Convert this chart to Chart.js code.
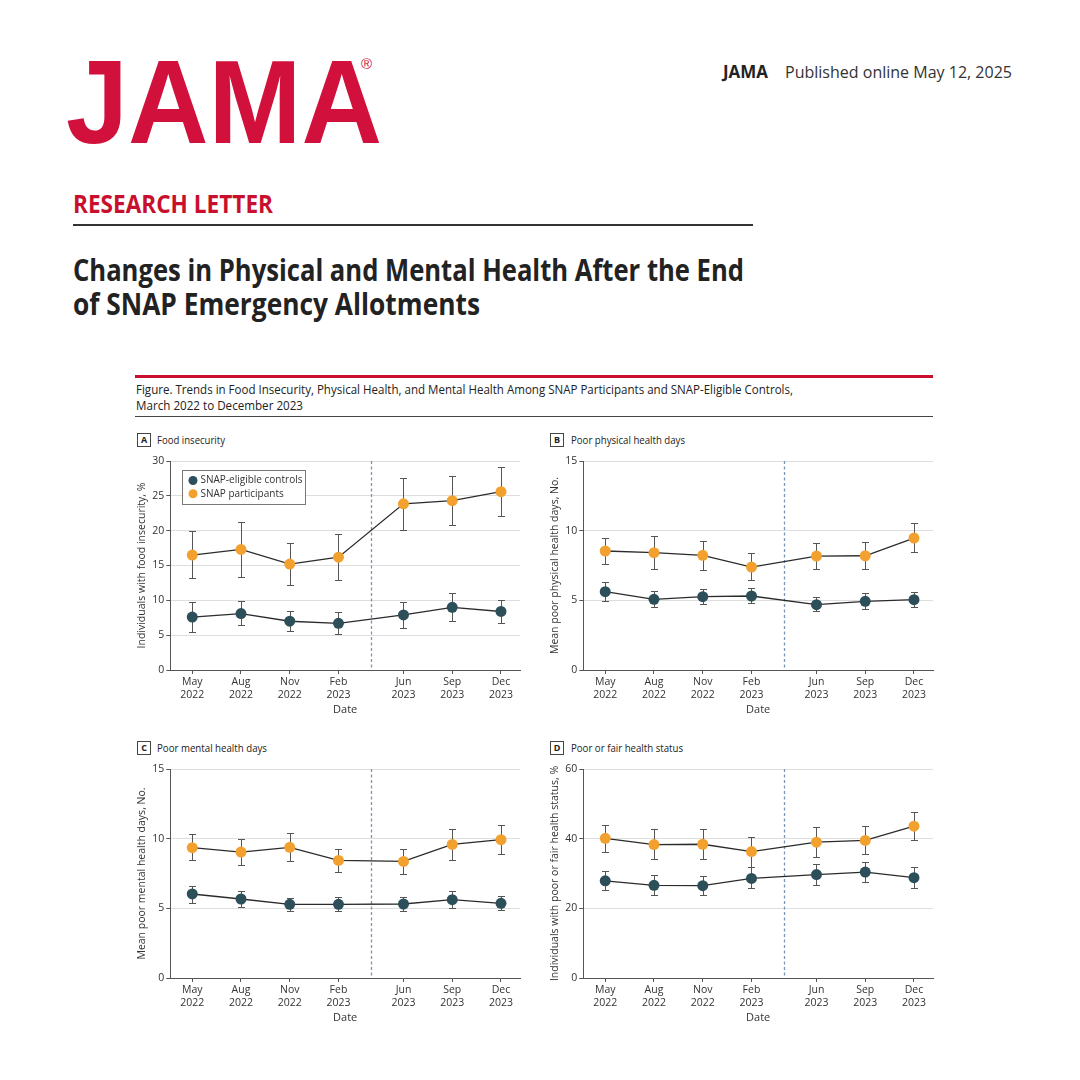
<!DOCTYPE html>
<html lang="en">
<head>
<meta charset="UTF-8" />
<title>Changes in Physical and Mental Health After the End of SNAP Emergency Allotments</title>
<script src="https://cdn.jsdelivr.net/npm/chart.js@4.4.1/dist/chart.umd.min.js"></script>
<style>
  body { margin: 0; width: 1080px; height: 1080px; background: #fff; position: relative; overflow: hidden;
         font-family: 'Open Sans', sans-serif; color: #222; }
  .t { position: absolute; white-space: nowrap; line-height: 1; transform-origin: left top; }
  .rule { position: absolute; }
  .tag { position: absolute; width: 12px; height: 12px; border: 1px solid #444; font: bold 9px 'Open Sans', sans-serif;
         text-align: center; line-height: 12px; color: #222; }
  canvas { position: absolute; }
</style>
</head>
<body>
  <div class="t" data-w="316" style="left:66px; top:43px; font:bold 118px/118px 'Liberation Sans', Arial, sans-serif; color:#d2103c;">JAMA</div>
  <div class="t" style="left:361px; top:55px; font:15px 'Liberation Sans', Arial, sans-serif; color:#d2103c;">®</div>
  <div class="t" data-w="45" style="left:723px; top:63px; font-size:17px; font-weight:700; color:#222;">JAMA</div>
  <div class="t" data-w="227" style="left:785px; top:63px; font-size:17px; color:#333;">Published online May 12, 2025</div>

  <div class="t" data-w="200" style="left:73px; top:191px; font-size:25px; font-weight:700; color:#c8102e;">RESEARCH LETTER</div>
  <div class="rule" style="left:73px; top:224px; width:680px; height:2px; background:#333;"></div>
  <div class="t" data-w="671" style="left:73px; top:254px; font-size:31px; font-weight:700; color:#222;">Changes in Physical and Mental Health After the End</div>
  <div class="t" data-w="407" style="left:73px; top:288px; font-size:31px; font-weight:700; color:#222;">of SNAP Emergency Allotments</div>

  <div class="rule" style="left:135px; top:375px; width:798px; height:3px; background:#c8102e;"></div>
  <div class="t" data-w="657" style="left:136px; top:383px; font-size:13px; color:#222;">Figure. Trends in Food Insecurity, Physical Health, and Mental Health Among SNAP Participants and SNAP-Eligible Controls,</div>
  <div class="t" data-w="167" style="left:136px; top:399px; font-size:13px; color:#222;">March 2022 to December 2023</div>
  <div class="rule" style="left:135px; top:416px; width:798px; height:1px; background:#444;"></div>

  <div class="tag" style="left:137px; top:433px;">A</div>
  <div class="t" data-w="68" style="left:157px; top:434px; font-size:11px; color:#222;">Food insecurity</div>
  <div class="tag" style="left:550px; top:433px;">B</div>
  <div class="t" data-w="114" style="left:571px; top:434px; font-size:11px; color:#222;">Poor physical health days</div>
  <div class="tag" style="left:137px; top:741px;">C</div>
  <div class="t" data-w="110" style="left:157px; top:742px; font-size:11px; color:#222;">Poor mental health days</div>
  <div class="tag" style="left:550px; top:741px;">D</div>
  <div class="t" data-w="112" style="left:571px; top:742px; font-size:11px; color:#222;">Poor or fair health status</div>

  <canvas id="chartA" width="400" height="270" style="left:130px; top:452px;"></canvas>
  <canvas id="chartB" width="400" height="270" style="left:543px; top:452px;"></canvas>
  <canvas id="chartC" width="400" height="270" style="left:130px; top:760px;"></canvas>
  <canvas id="chartD" width="400" height="270" style="left:543px; top:760px;"></canvas>

<script>
  // x positions: months since May 2022
  const monthPos = [0, 3, 6, 9, 13, 16, 19]
  const tickLabels = [['May', '2022'], ['Aug', '2022'], ['Nov', '2022'], ['Feb', '2023'], ['Jun', '2023'], ['Sep', '2023'], ['Dec', '2023']]
  const allotmentsEnd = 11 // dashed line (end of emergency allotments)

  // A: food insecurity, %
  const foodCtrl   = [7.6, 8.1, 7.0, 6.7, 7.9, 9.0, 8.4]
  const foodCtrlLo = [5.5, 6.4, 5.6, 5.1, 6.1, 7.0, 6.75]
  const foodCtrlHi = [9.7, 9.85, 8.4, 8.3, 9.7, 11.0, 10.05]
  const foodSnap   = [16.5, 17.3, 15.2, 16.2, 23.85, 24.3, 25.6]
  const foodSnapLo = [13.2, 13.3, 12.15, 12.9, 20.1, 20.8, 22.1]
  const foodSnapHi = [19.9, 21.2, 18.2, 19.5, 27.6, 27.8, 29.1]

  // B: poor physical health days
  const physCtrl   = [5.62, 5.07, 5.26, 5.31, 4.69, 4.93, 5.05]
  const physCtrlLo = [4.93, 4.52, 4.71, 4.78, 4.21, 4.38, 4.52]
  const physCtrlHi = [6.29, 5.67, 5.84, 5.86, 5.22, 5.53, 5.57]
  const physSnap   = [8.54, 8.42, 8.23, 7.39, 8.18, 8.2, 9.47]
  const physSnapLo = [7.58, 7.22, 7.18, 6.44, 7.25, 7.25, 8.44]
  const physSnapHi = [9.5, 9.59, 9.26, 8.4, 9.09, 9.21, 10.55]

  // C: poor mental health days
  const mentCtrl   = [6.03, 5.67, 5.29, 5.29, 5.31, 5.62, 5.36]
  const mentCtrlLo = [5.36, 5.1, 4.81, 4.78, 4.81, 5.0, 4.86]
  const mentCtrlHi = [6.63, 6.22, 5.74, 5.79, 5.84, 6.27, 5.86]
  const mentSnap   = [9.35, 9.04, 9.38, 8.44, 8.37, 9.59, 9.93]
  const mentSnapLo = [8.44, 8.11, 8.4, 7.58, 7.44, 8.44, 8.9]
  const mentSnapHi = [10.31, 9.95, 10.38, 9.28, 9.28, 10.72, 10.96]

  // D: poor or fair health status, %
  const fairCtrl   = [27.9, 26.6, 26.5, 28.6, 29.7, 30.4, 28.8]
  const fairCtrlLo = [25.2, 23.8, 23.8, 25.7, 26.7, 27.5, 25.8]
  const fairCtrlHi = [30.8, 29.5, 29.3, 31.9, 32.7, 33.4, 31.8]
  const fairSnap   = [40.1, 38.3, 38.4, 36.3, 39.0, 39.5, 43.6]
  const fairSnapLo = [36.2, 34.1, 34.1, 32.0, 34.7, 35.6, 39.5]
  const fairSnapHi = [43.9, 42.7, 42.8, 40.5, 43.3, 43.7, 47.7]

  const ctrlColor = '#2d4f5a'
  const snapColor = '#f2a12e'

  Chart.defaults.font.family = "'Open Sans', sans-serif"
  Chart.defaults.font.size = 10
  Chart.defaults.color = '#333'

  const errorBars = {
    id: 'errorBars',
    beforeDatasetsDraw(chart) {
      const { ctx, chartArea, scales: { x, y } } = chart
      ctx.save()
      const px = Math.round(x.getPixelForValue(allotmentsEnd)) + 0.5
      ctx.strokeStyle = '#7b95b6'
      ctx.lineWidth = 1.3
      ctx.setLineDash([3, 2.5])
      ctx.beginPath()
      ctx.moveTo(px, chartArea.top)
      ctx.lineTo(px, chartArea.bottom)
      ctx.stroke()
      ctx.setLineDash([])
      ctx.strokeStyle = '#555'
      ctx.lineWidth = 1
      chart.data.datasets.forEach(ds => {
        ds.data.forEach((p, i) => {
          const cx = Math.round(x.getPixelForValue(p.x)) + 0.5
          const top = Math.round(y.getPixelForValue(ds.errHi[i])) + 0.5
          const bot = Math.round(y.getPixelForValue(ds.errLo[i])) + 0.5
          ctx.beginPath()
          ctx.moveTo(cx, top); ctx.lineTo(cx, bot)
          ctx.moveTo(cx - 3.5, top); ctx.lineTo(cx + 3.5, top)
          ctx.moveTo(cx - 3.5, bot); ctx.lineTo(cx + 3.5, bot)
          ctx.stroke()
        })
      })
      ctx.restore()
    }
  }

  const boxLegend = {
    id: 'boxLegend',
    afterDraw(chart, args, opts) {
      if (!opts.show) return
      const { ctx, chartArea } = chart
      const lx = Math.round(chartArea.left + 12) + 0.5
      const ly = Math.round(chartArea.top + 9) + 0.5
      ctx.save()
      ctx.fillStyle = '#fff'
      ctx.fillRect(lx, ly, 123, 34)
      ctx.strokeStyle = '#777'
      ctx.lineWidth = 1
      ctx.strokeRect(lx, ly, 123, 34)
      ctx.font = "10px 'Open Sans', sans-serif"
      ctx.textBaseline = 'middle'
      chart.data.datasets.forEach((ds, i) => {
        const cy = ly + 10 + i * 13.3
        ctx.fillStyle = ds.pointBackgroundColor
        ctx.beginPath()
        ctx.arc(lx + 10.5, cy, 4.5, 0, Math.PI * 2)
        ctx.fill()
        ctx.fillStyle = '#333'
        ctx.fillText(ds.label, lx + 18, cy)
      })
      ctx.restore()
    }
  }

  function series(label, vals, lo, hi, color) {
    return {
      label: label,
      data: monthPos.map((m, i) => ({ x: m, y: vals[i] })),
      errLo: lo,
      errHi: hi,
      borderColor: '#2b2b2b',
      borderWidth: 1.3,
      pointRadius: 5.5,
      pointBackgroundColor: color,
      pointBorderColor: color,
      pointBorderWidth: 0,
      tension: 0
    }
  }

  function panel(id, yTitle, yMax, yStep, datasets, showLegend) {
    return new Chart(document.getElementById(id), {
      type: 'line',
      data: { datasets: datasets },
      plugins: [errorBars, boxLegend],
      options: {
        responsive: false,
        animation: false,
        layout: { padding: { top: 9, right: 10, left: 0, bottom: 0 } },
        plugins: {
          legend: { display: false },
          tooltip: { enabled: false },
          boxLegend: { show: showLegend }
        },
        scales: {
          x: {
            type: 'linear',
            min: -1.35,
            max: 20.17,
            afterBuildTicks: s => { s.ticks = monthPos.map(v => ({ value: v })) },
            afterFit: s => { s.height = 52 },
            ticks: { callback: (v, i) => tickLabels[i], autoSkip: false, maxRotation: 0, padding: 2, color: '#333', font: { size: 10.5 } },
            grid: { drawOnChartArea: false, tickLength: 4, tickColor: '#555' },
            border: { color: '#555' },
            title: { display: true, text: 'Date', color: '#333', font: { size: 11 }, padding: { top: 0, bottom: 6 } }
          },
          y: {
            min: 0,
            max: yMax,
            afterFit: s => { s.width = 40.3 },
            ticks: { stepSize: yStep, padding: 2, color: '#333', font: { size: 10.5 } },
            grid: { color: '#dedede', tickColor: '#555', tickLength: 4 },
            border: { color: '#555' },
            title: { display: true, text: yTitle, color: '#333', font: { size: 10.5 }, padding: { top: 6, bottom: 0 } }
          }
        }
      }
    })
  }

  panel('chartA', 'Individuals with food insecurity, %', 30, 5, [
    series('SNAP-eligible controls', foodCtrl, foodCtrlLo, foodCtrlHi, ctrlColor),
    series('SNAP participants', foodSnap, foodSnapLo, foodSnapHi, snapColor)
  ], true)
  panel('chartB', 'Mean poor physical health days, No.', 15, 5, [
    series('SNAP-eligible controls', physCtrl, physCtrlLo, physCtrlHi, ctrlColor),
    series('SNAP participants', physSnap, physSnapLo, physSnapHi, snapColor)
  ], false)
  panel('chartC', 'Mean poor mental health days, No.', 15, 5, [
    series('SNAP-eligible controls', mentCtrl, mentCtrlLo, mentCtrlHi, ctrlColor),
    series('SNAP participants', mentSnap, mentSnapLo, mentSnapHi, snapColor)
  ], false)
  panel('chartD', 'Individuals with poor or fair health status, %', 60, 20, [
    series('SNAP-eligible controls', fairCtrl, fairCtrlLo, fairCtrlHi, ctrlColor),
    series('SNAP participants', fairSnap, fairSnapLo, fairSnapHi, snapColor)
  ], false)

  // squeeze header/caption text to the widths measured on the reference
  function fitText() {
    document.querySelectorAll('[data-w]').forEach(el => {
      el.style.transform = ''
      const w = el.getBoundingClientRect().width
      el.style.transform = 'scaleX(' + (+el.dataset.w / w) + ')'
    })
  }
  fitText()
  document.fonts.ready.then(fitText)
</script>
</body>
</html>
